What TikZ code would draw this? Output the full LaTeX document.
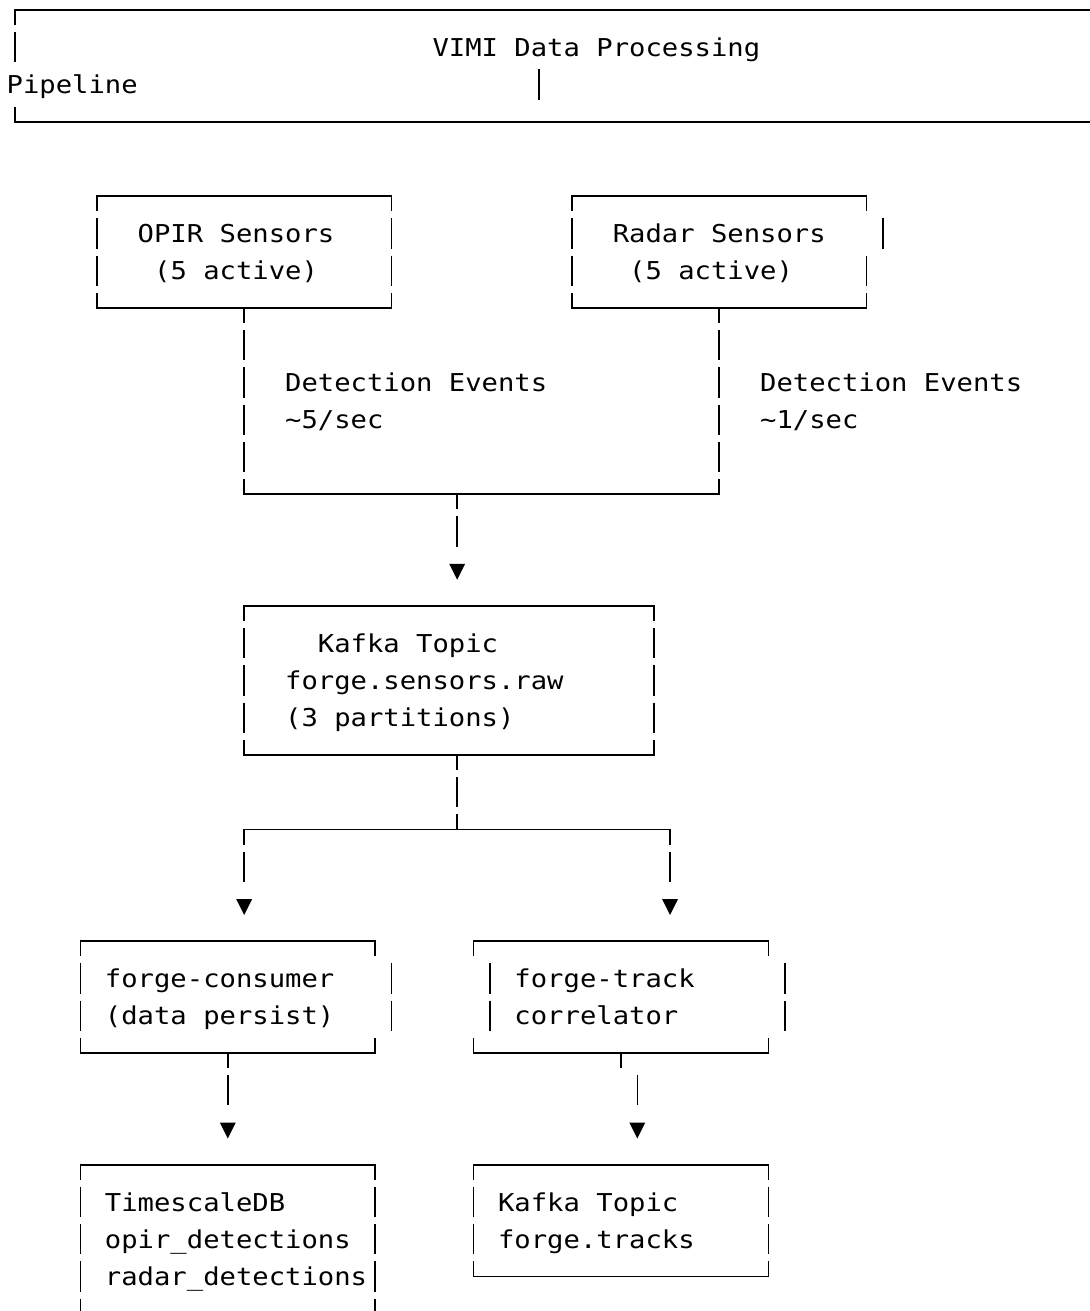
\documentclass[tikz,border=0pt]{standalone}
\usepackage{fontspec}
\usetikzlibrary{calc}
\newfontfamily\asciimono[FakeStretch=1.106]{DejaVu Sans Mono}
\begin{document}
\begin{tikzpicture}[x=1pt,y=-1pt,
  declare function={cx(\c)=14.9+16.38*\c; cl(\c)=6.7+16.38*\c; ry(\r)=10+37.25*\r; bl(\r)=19+37.25*\r;},
  hline/.style={line width=1.6pt, line cap=rect, draw=black},
  vline/.style={line width=1.6pt, draw=black, dash pattern=on 30.25pt off 7pt, dash phase=15.125pt},
  vbar/.style={line width=1.6pt, draw=black},
  lbl/.style={anchor=base west, inner sep=0pt, outer sep=0pt, font=\asciimono\fontsize{24.6pt}{30pt}\selectfont, text=black},
  tip/.style={fill=black, draw=none},
]
\useasboundingbox (0,0) rectangle (1089,1311);
\fill[white] (0,0) rectangle (1089,1311);

% ---------- helpers ----------
\newcommand\axHseg[3]{\draw[hline] ({cx(#1)},{ry(#3)}) -- ({cx(#2)},{ry(#3)});}
\newcommand\axVrun[3]{\draw[vline] ({cx(#1)},{ry(#2)}) -- ({cx(#1)},{ry(#3)});}
\newcommand\axVcell[2]{\draw[vbar] ({cx(#1)},{ry(#2)-15.125}) -- ({cx(#1)},{ry(#2)+15.125});}
\newcommand\axCdown[2]{\draw[vbar] ({cx(#1)},{ry(#2)}) -- ({cx(#1)},{ry(#2)+15.125});}
\newcommand\axCup[2]{\draw[vbar] ({cx(#1)},{ry(#2)}) -- ({cx(#1)},{ry(#2)-15.125});}
\newcommand\axTri[1]{\fill[tip] ($(#1)+(-8,-5)$) -- ($(#1)+(8,-5)$) -- ($(#1)+(0,11)$) -- cycle;}

% ---------- title box ----------
\draw[hline] ({cx(0)},{ry(0)}) -- (1092,{ry(0)});
\draw[vline] ({cx(0)},{ry(0)}) -- ({cx(0)},{ry(1)+15.125});
\axCup{0}{3}
\draw[hline] ({cx(0)},{ry(3)}) -- (1092,{ry(3)});
\axVcell{32}{2}
\node[lbl] (title1) at ({cl(26)},{bl(1)}) {VIMI Data Processing};
\node[lbl] (title2) at ({cl(0)},{bl(2)}) {Pipeline};

% ---------- OPIR box ----------
\axHseg{5}{23}{5} \axHseg{5}{23}{8}
\axVrun{5}{5}{8} \axVrun{23}{5}{8}
\node[lbl] (opir1) at ({cl(8)},{bl(6)}) {OPIR Sensors};
\node[lbl] (opir2) at ({cl(9)},{bl(7)}) {(5 active)};

% ---------- Radar box ----------
\axHseg{34}{52}{5} \axHseg{34}{52}{8}
\axVrun{34}{5}{8}
\axCdown{52}{5} \axVcell{53}{6} \axVcell{52}{7} \axCup{52}{8}
\node[lbl] (radar1) at ({cl(37)},{bl(6)}) {Radar Sensors};
\node[lbl] (radar2) at ({cl(38)},{bl(7)}) {(5 active)};

% ---------- merge to Kafka ----------
\coordinate (opirport) at ({cx(14)},{ry(8)});
\coordinate (radarport) at ({cx(43)},{ry(8)});
\coordinate (mergeL) at ({cx(14)},{ry(13)});
\coordinate (mergeR) at ({cx(43)},{ry(13)});
\coordinate (mergeC) at ({cx(27)},{ry(13)});
\coordinate (stemA) at ({cx(27)},{ry(14)+15.125});
\coordinate (tipA) at ({cx(27)},{ry(15)});
\draw[vline] (opirport) -- (mergeL);
\draw[vline] (radarport) -- (mergeR);
\draw[hline] (mergeL) -- (mergeR);
\draw[vline] (mergeC) -- (stemA);
\axTri{tipA}
\node[lbl] (det1a) at ({cl(17)},{bl(10)}) {Detection Events};
\node[lbl] (det1b) at ({cl(17)},{bl(11)}) {\textasciitilde 5/sec};
\node[lbl] (det2a) at ({cl(46)},{bl(10)}) {Detection Events};
\node[lbl] (det2b) at ({cl(46)},{bl(11)}) {\textasciitilde 1/sec};

% ---------- Kafka raw box ----------
\axHseg{14}{39}{16} \axHseg{14}{39}{20}
\axVrun{14}{16}{20} \axVrun{39}{16}{20}
\node[lbl] (kafka1) at ({cl(19)},{bl(17)}) {Kafka Topic};
\node[lbl] (kafka2) at ({cl(17)},{bl(18)}) {forge.sensors.raw};
\node[lbl] (kafka3) at ({cl(17)},{bl(19)}) {(3 partitions)};

% ---------- split ----------
\coordinate (kafkaport) at ({cx(27)},{ry(20)});
\coordinate (splitC) at ({cx(27)},{ry(22)});
\coordinate (splitL) at ({cx(14)},{ry(22)});
\coordinate (splitR) at ({cx(40)},{ry(22)});
\coordinate (stemL) at ({cx(14)},{ry(23)+15.125});
\coordinate (stemR) at ({cx(40)},{ry(23)+15.125});
\coordinate (tipL) at ({cx(14)},{ry(24)});
\coordinate (tipR) at ({cx(40)},{ry(24)});
\draw[vline] (kafkaport) -- (splitC);
\draw[hline] (splitL) -- (splitR);
\draw[vline] (splitL) -- (stemL);
\draw[vline] (splitR) -- (stemR);
\axTri{tipL} \axTri{tipR}

% ---------- forge-consumer box ----------
\axHseg{4}{22}{25} \axHseg{4}{22}{28}
\axVrun{4}{25}{28}
\axCdown{22}{25} \axVcell{23}{26} \axVcell{23}{27} \axCup{22}{28}
\node[lbl] (cons1) at ({cl(6)},{bl(26)}) {forge-consumer};
\node[lbl] (cons2) at ({cl(6)},{bl(27)}) {(data persist)};

% ---------- forge-track correlator box ----------
\axHseg{28}{46}{25} \axHseg{28}{46}{28}
\axCdown{28}{25} \axVcell{29}{26} \axVcell{29}{27} \axCup{28}{28}
\axCdown{46}{25} \axVcell{47}{26} \axVcell{47}{27} \axCup{46}{28}
\node[lbl] (corr1) at ({cl(31)},{bl(26)}) {forge-track};
\node[lbl] (corr2) at ({cl(31)},{bl(27)}) {correlator};

% ---------- down arrows ----------
\coordinate (consport) at ({cx(13)},{ry(28)});
\coordinate (stemC) at ({cx(13)},{ry(29)+15.125});
\coordinate (tipC) at ({cx(13)},{ry(30)});
\draw[vline] (consport) -- (stemC);
\axTri{tipC}
\coordinate (corrport) at ({cx(37)},{ry(28)});
\coordinate (corrtick) at ({cx(37)},{ry(28)+15.125});
\coordinate (corrbarT) at ({cx(38)},{ry(29)-15.125});
\coordinate (corrbarB) at ({cx(38)},{ry(29)+15.125});
\coordinate (tipT) at ({cx(38)},{ry(30)});
\draw[vbar] (corrport) -- (corrtick);
\draw[vbar] (corrbarT) -- (corrbarB);
\axTri{tipT}

% ---------- TimescaleDB box ----------
\axHseg{4}{22}{31}
\draw[vline] ({cx(4)},{ry(31)}) -- ({cx(4)},1312);
\draw[vline] ({cx(22)},{ry(31)}) -- ({cx(22)},1312);
\node[lbl] (tsdb1) at ({cl(6)},{bl(32)}) {TimescaleDB};
\node[lbl] (tsdb2) at ({cl(6)},{bl(33)}) {opir\_detections};
\node[lbl] (tsdb3) at ({cl(6)},{bl(34)}) {radar\_detections};

% ---------- Kafka tracks box ----------
\axHseg{28}{46}{31} \axHseg{28}{46}{34}
\axVrun{28}{31}{34} \axVrun{46}{31}{34}
\node[lbl] (trk1) at ({cl(30)},{bl(32)}) {Kafka Topic};
\node[lbl] (trk2) at ({cl(30)},{bl(33)}) {forge.tracks};
\end{tikzpicture}
\end{document}
